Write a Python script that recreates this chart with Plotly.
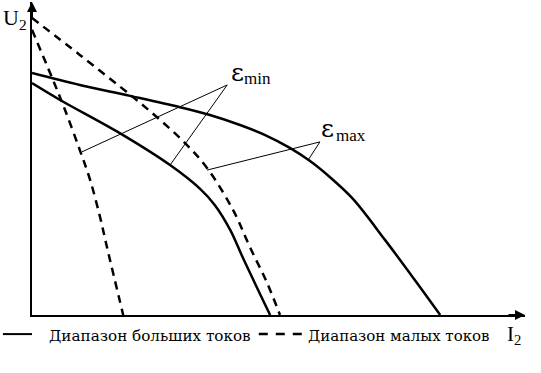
import plotly.graph_objects as go

# ---- data (arbitrary units: I2 0..100, U2 0..100) ----
large_emax_I = [0, 9.7, 19.9, 30.0, 36.1, 42.2, 47.3, 52.3, 56.4, 60.4, 65.1, 71.6, 77.5, 82.8]
large_emax_U = [77.3, 73.5, 70.0, 66.4, 63.9, 60.7, 57.5, 53.4, 49.2, 44.1, 37.1, 24.0, 11.5, 0]

large_emin_I = [0, 5.7, 17.8, 28.0, 34.1, 37.1, 40.2, 42.8, 48.3]
large_emin_U = [74.1, 68.7, 58.1, 47.9, 40.3, 35.1, 27.2, 18.2, 0]

small_emax_I = [0, 9.7, 20.5, 26.0, 31.0, 35.5, 40.8, 44.2, 47.7, 50.3]
small_emax_U = [94.9, 83.1, 69.6, 62.3, 55.0, 47.0, 33.5, 21.7, 10.2, 0]

small_emin_I = [0, 4.1, 6.7, 9.7, 11.8, 13.8, 15.2, 18.5]
small_emin_U = [91.1, 75.7, 65.5, 52.7, 43.1, 31.3, 21.7, 0]

# pointer lines: apex -> curve points
emin_apex = (39.6, 73.5)
emin_targets = [(10.1, 52.1), (28.0, 47.9)]
emax_apex = (58.4, 55.3)
emax_targets = [(35.5, 46.3), (56.0, 49.5)]

legend_labels = ["Диапазон больших токов", "Диапазон малых токов"]
FONT = "Liberation Serif"
FONT2 = "DejaVu Serif"

fig = go.Figure()
line_solid = dict(color="black", width=2.5, shape="spline", smoothing=1.0)
line_dash = dict(color="black", width=2.5, shape="spline", smoothing=1.0, dash="8px,6px")

fig.add_trace(go.Scatter(x=large_emax_I, y=large_emax_U, mode="lines", line=line_solid, showlegend=False))
fig.add_trace(go.Scatter(x=large_emin_I, y=large_emin_U, mode="lines", line=line_solid, showlegend=False))
fig.add_trace(go.Scatter(x=small_emax_I, y=small_emax_U, mode="lines", line=line_dash, showlegend=False))
fig.add_trace(go.Scatter(x=small_emin_I, y=small_emin_U, mode="lines", line=line_dash, showlegend=False))

for apex, targets in ((emin_apex, emin_targets), (emax_apex, emax_targets)):
    for t in targets:
        fig.add_trace(go.Scatter(x=[apex[0], t[0]], y=[apex[1], t[1]], mode="lines",
                                 line=dict(color="black", width=1), showlegend=False, hoverinfo="skip"))

ann = []
# epsilon labels
ann.append(dict(x=40.0, y=77.5, xref="x", yref="y", text="ε", showarrow=False,
                xanchor="left", yanchor="middle", font=dict(family=FONT2, size=25, color="black")))
ann.append(dict(x=42.6, y=75.5, xref="x", yref="y", text="min", showarrow=False,
                xanchor="left", yanchor="middle", font=dict(family=FONT, size=17, color="black")))
ann.append(dict(x=58.2, y=59.5, xref="x", yref="y", text="ε", showarrow=False,
                xanchor="left", yanchor="middle", font=dict(family=FONT2, size=25, color="black")))
ann.append(dict(x=61.2, y=57.3, xref="x", yref="y", text="max", showarrow=False,
                xanchor="left", yanchor="middle", font=dict(family=FONT, size=17, color="black")))
# axis titles
ann.append(dict(x=-0.062, y=0.945, xref="paper", yref="paper", text="U<sub>2</sub>", showarrow=False,
                xanchor="left", yanchor="middle", font=dict(family=FONT, size=22, color="black")))
ann.append(dict(x=0.96, y=-0.065, xref="paper", yref="paper", text="I<sub>2</sub>", showarrow=False,
                xanchor="left", yanchor="middle", font=dict(family=FONT, size=21, color="black")))
# axis arrows
ann.append(dict(x=1, y=0, xref="paper", yref="paper", ax=-18, ay=0, text="", showarrow=True,
                arrowhead=2, arrowsize=1, arrowwidth=2, arrowcolor="black", standoff=0))
ann.append(dict(x=0, y=1, xref="paper", yref="paper", ax=0, ay=18, text="", showarrow=True,
                arrowhead=2, arrowsize=1, arrowwidth=2, arrowcolor="black", standoff=0))
# legend texts
ann.append(dict(x=0.030, y=-0.068, xref="paper", yref="paper", text=legend_labels[0], showarrow=False,
                xanchor="left", yanchor="middle", font=dict(family=FONT2, size=15.2, color="black")))
ann.append(dict(x=0.556, y=-0.068, xref="paper", yref="paper", text=legend_labels[1], showarrow=False,
                xanchor="left", yanchor="middle", font=dict(family=FONT2, size=15.0, color="black")))

shapes = [
    dict(type="line", xref="paper", yref="paper", x0=-0.059, x1=0.0, y0=-0.061, y1=-0.061,
         line=dict(color="black", width=2)),
    dict(type="line", xref="paper", yref="paper", x0=0.460, x1=0.548, y0=-0.061, y1=-0.061,
         line=dict(color="black", width=2.5, dash="9px,8px")),
]

fig.update_layout(
    width=541, height=373,
    margin=dict(l=32, r=16, t=2, b=58),
    paper_bgcolor="white", plot_bgcolor="white",
    font=dict(family=FONT, color="black"),
    xaxis=dict(range=[0, 100], showline=True, linecolor="black", linewidth=2, showgrid=False,
               zeroline=False, showticklabels=False, ticks=""),
    yaxis=dict(range=[0, 100], showline=True, linecolor="black", linewidth=2, showgrid=False,
               zeroline=False, showticklabels=False, ticks=""),
    annotations=ann, shapes=shapes,
)

fig.write_html("out.html", config={"displayModeBar": False},
               post_script="document.body.style.margin='0px';document.body.style.overflow='hidden';")
